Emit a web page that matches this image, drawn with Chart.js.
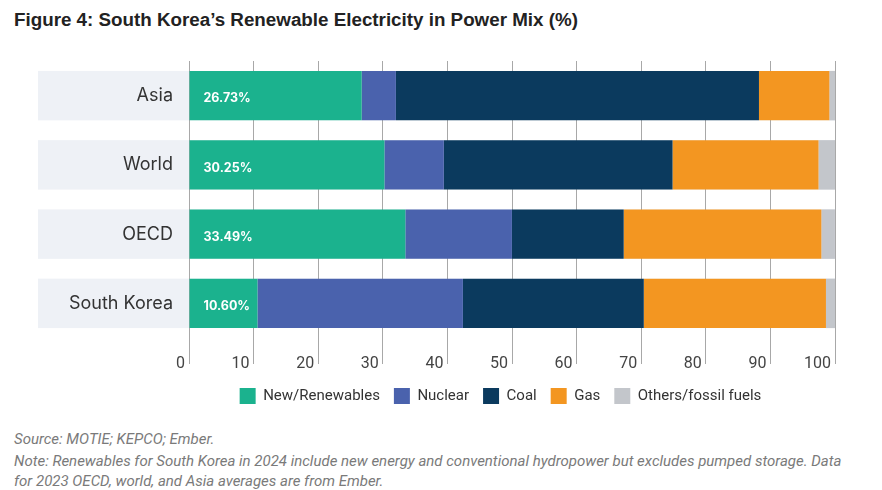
<!DOCTYPE html>
<html>
<head>
<meta charset="utf-8">
<script src="https://cdn.jsdelivr.net/npm/chart.js@4.4.1/dist/chart.umd.min.js"></script>
<style>
  body { margin: 0; background: #fff; width: 882px; height: 490px; overflow: hidden; position: relative; }
  #titulo { position: absolute; left: 14px; top: 9px; font: bold 18.8px "Liberation Sans", Arial, sans-serif; color: #222; }
  #grafico-box { position: absolute; left: 0; top: 0; width: 882px; height: 420px; }
  .nota { position: absolute; left: 14px; font: italic 15px "Liberation Sans Narrow", "Roboto", sans-serif; color: #7a7a7a; }
</style>
</head>
<body>
<div id="titulo">Figure 4: South Korea’s Renewable Electricity in Power Mix (%)</div>
<div id="grafico-box"><canvas id="graficoBarras"></canvas></div>
<div class="nota" style="top:430px">Source: MOTIE; KEPCO; Ember.</div>
<div class="nota" style="top:452px">Note: Renewables for South Korea in 2024 include new energy and conventional hydropower but excludes pumped storage. Data</div>
<div class="nota" style="top:472px">for 2023 OECD, world, and Asia averages are from Ember.</div>
<script>
// dados
const regioes = ['Asia', 'World', 'OECD', 'South Korea'];
const renovaveis = [26.73, 30.25, 33.49, 10.60];
const nuclear = [5.3, 9.2, 16.5, 31.8];
const carvao = [56.2, 35.4, 17.3, 28.0];
const gas = [10.9, 22.6, 30.6, 28.2];
const outros = [0.9, 2.6, 2.1, 1.4];
const ticksX = [0, 10, 20, 30, 40, 50, 60, 70, 80, 90, 100];

// faixa cinza clara atrás de cada linha (começa na borda esquerda do eixo y)
const faixaFundo = {
    id: 'faixaFundo',
    beforeDraw(chart) {
        const ctx = chart.ctx;
        const meta = chart.getDatasetMeta(0);
        const area = chart.chartArea;
        const esquerda = chart.scales.y.left;
        ctx.save();
        ctx.fillStyle = '#eef1f6';
        meta.data.forEach(bar => {
            const h = bar.height;
            ctx.fillRect(esquerda, bar.y - h / 2, area.right - esquerda, h);
        });
        ctx.restore();
    }
};

// desloca a legenda para ficar centrada como na figura
const ajusteLegenda = {
    id: 'ajusteLegenda',
    afterLayout(chart) {
        const desloc = 64;
        chart.legend.left += desloc;
        chart.legend.right += desloc;
    }
};

// rótulos de percentual dentro da barra verde
const rotulosRenovaveis = {
    id: 'rotulosRenovaveis',
    afterDatasetsDraw(chart) {
        const ctx = chart.ctx;
        const meta = chart.getDatasetMeta(0);
        ctx.save();
        ctx.fillStyle = '#ffffff';
        ctx.font = 'bold 12.5px Inter, "Open Sans", sans-serif';
        ctx.textAlign = 'left';
        ctx.textBaseline = 'middle';
        meta.data.forEach((bar, i) => {
            ctx.fillText(renovaveis[i].toFixed(2) + '%', bar.base + 14, bar.y + 3);
        });
        ctx.restore();
    }
};

const ctx = document.getElementById('graficoBarras').getContext('2d');
const chart = new Chart(ctx, {
    type: 'bar',
    data: {
        labels: regioes,
        datasets: [
            { label: 'New/Renewables', data: renovaveis, backgroundColor: '#1bb28e' },
            { label: 'Nuclear', data: nuclear, backgroundColor: '#4a62ad' },
            { label: 'Coal', data: carvao, backgroundColor: '#0b3a5e' },
            { label: 'Gas', data: gas, backgroundColor: '#f39621' },
            { label: 'Others/fossil fuels', data: outros, backgroundColor: '#c3c6cb' }
        ]
    },
    options: {
        indexAxis: 'y',
        responsive: true,
        maintainAspectRatio: false,
        animation: false,
        layout: { padding: { top: 61, left: 38, right: 47, bottom: 6 } },
        datasets: { bar: { barPercentage: 0.714, categoryPercentage: 1 } },
        scales: {
            x: {
                stacked: true,
                min: 0,
                max: 100,
                afterBuildTicks: scale => { scale.ticks = ticksX.map(v => ({ value: v })); },
                afterFit: scale => { scale.height = 36; },
                grid: { color: '#a8a8a8', lineWidth: 1, drawTicks: true, tickLength: 26 },
                border: { display: false },
                ticks: {
                    align: 'end',
                    labelOffset: -4,
                    padding: -9.5,
                    color: '#444',
                    font: { family: 'Roboto, sans-serif', size: 16 }
                }
            },
            y: {
                stacked: true,
                afterFit: scale => { scale.width = 151; },
                grid: { display: false, drawTicks: false },
                border: { display: false },
                ticks: {
                    padding: 16,
                    color: '#333',
                    font: { family: 'Inter, sans-serif', size: 18 }
                }
            }
        },
        plugins: {
            legend: {
                position: 'bottom',
                labels: {
                    boxWidth: 16,
                    boxHeight: 16,
                    padding: 14,
                    color: '#333',
                    font: { family: 'Roboto, sans-serif', size: 15 }
                }
            },
            tooltip: { enabled: false }
        }
    },
    plugins: [faixaFundo, ajusteLegenda, rotulosRenovaveis]
});
</script>
</body>
</html>
